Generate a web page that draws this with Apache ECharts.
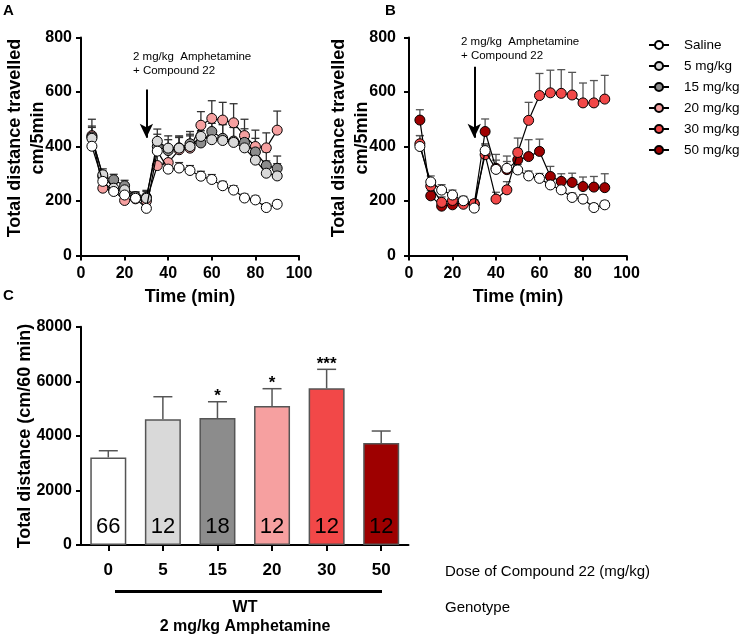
<!DOCTYPE html>
<html>
<head>
<meta charset="utf-8">
<script src="https://cdn.jsdelivr.net/npm/echarts@6/dist/echarts.min.js"></script>
<style>html,body{margin:0;padding:0;background:#fff;}#c{width:742px;height:638px;}</style>
</head>
<body>
<div id="c"></div>
<script>
// ---- Data ----
var timeMin = [5,10,15,20,25,30,35,40,45,50,55,60,65,70,75,80,85,90];

// Panel A
var salineA     = [401,272,235,222,210,173,383,317,321,312,291,279,256,240,211,204,176,188];
var salineA_err = [18,18,16,15,14,15,20,20,20,18,18,18,16,16,14,14,14,14];
var dose5A      = [430,296,247,241,215,210,419,394,394,400,437,425,422,415,395,350,302,292];
var dose5A_err  = [40,22,20,20,18,25,45,45,45,45,45,60,60,55,50,45,45,45];
var dose15A     = [435,290,278,256,215,214,400,385,395,410,413,455,430,420,415,380,330,320];
var dose15A_err = [40,20,20,20,18,25,45,40,40,45,45,50,50,50,50,50,50,45];
var dose20A     = [440,247,238,202,208,200,330,341,388,394,478,503,497,487,440,400,395,460];
var dose20A_err = [60,25,25,25,20,25,45,45,45,45,50,65,65,70,60,60,55,70];

// Panel B
var salineB     = [400,270,240,222,201,174,385,316,320,314,292,283,259,241,213,207,176,186];
var salineB_err = [40,22,20,18,16,15,20,55,45,20,18,18,18,18,16,16,14,14];
var dose30B     = [410,255,195,202,188,190,370,207,241,378,496,587,597,595,589,560,560,574];
var dose30B_err = [30,20,20,20,15,15,40,25,30,53,66,81,83,87,83,73,82,87];
var dose50B     = [497,219,181,186,195,189,455,320,315,351,363,382,290,272,268,253,251,249];
var dose50B_err = [38,20,20,20,18,15,46,30,30,40,62,45,37,28,34,35,39,51];

// Panel C
var doses  = ['0','5','15','20','30','50'];
var meanC  = [3210,4605,4654,5094,5742,3737];
var errC   = [245,829,596,634,696,440];
var nC     = [66,12,18,12,12,12];
var sigC   = ['','','*','*','***',''];

var seriesNames = ['Saline','5 mg/kg','15 mg/kg','20 mg/kg','30 mg/kg','50 mg/kg'];
var colors = {'Saline':'#ffffff','5 mg/kg':'#d9d9d9','15 mg/kg':'#8c8c8c','20 mg/kg':'#f6a0a0','30 mg/kg':'#f24848','50 mg/kg':'#9e0000'};

var FONT = "'Liberation Sans', Arial, sans-serif";

function pts(arr){ return timeMin.map(function(t,i){return [t, arr[i]];}); }
function errPts(arr, err){ return timeMin.map(function(t,i){return [t, arr[i], arr[i]+err[i]];}); }

function errSeries(arr, err, gi, color, z){
  return {
    type:'custom', xAxisIndex:gi, yAxisIndex:gi, z:z, silent:true,
    data: errPts(arr, err),
    encode:{x:0, y:[1,2]},
    renderItem:function(params, api){
      var p0 = api.coord([api.value(0), api.value(1)]);
      var p1 = api.coord([api.value(0), api.value(2)]);
      var hw = 4;
      return {type:'group', children:[
        {type:'line', shape:{x1:p0[0],y1:p0[1],x2:p1[0],y2:p1[1]}, style:{stroke:color, lineWidth:1.3}},
        {type:'line', shape:{x1:p1[0]-hw,y1:p1[1],x2:p1[0]+hw,y2:p1[1]}, style:{stroke:color, lineWidth:1.3}}
      ]};
    }
  };
}

function lineSeries(name, arr, gi, z, extra){
  var s = {
    name:name, type:'line', xAxisIndex:gi, yAxisIndex:gi, z:z,
    data: pts(arr), symbol:'circle', symbolSize:10, showSymbol:true,
    itemStyle:{color:colors[name], borderColor:'#000', borderWidth:1},
    lineStyle:{color:'#000', width:1.2},
    emphasis:{disabled:true}
  };
  if (extra) for (var k in extra) s[k] = extra[k];
  return s;
}

function arrowMark(yFrom, yTo){
  return {
    silent:true, symbol:['none','arrow'], symbolSize:[10,14],
    lineStyle:{color:'#000', width:2, type:'solid'},
    label:{show:false},
    data:[[{coord:[30, yFrom]},{coord:[30, yTo]}]]
  };
}

var axisLineStyle = {show:true, lineStyle:{color:'#000', width:2}};
var axisTickStyle = {show:true, length:5, lineStyle:{color:'#000', width:2}};
var labelStyle = {color:'#000', fontWeight:'bold', fontSize:16, fontFamily:FONT};

function timeX(gi){
  return {type:'value', gridIndex:gi, min:0, max:100, interval:20,
    axisLine:axisLineStyle, axisTick:axisTickStyle, splitLine:{show:false},
    axisLabel:Object.assign({margin:10}, labelStyle)};
}
function distY(gi, margin){
  return {type:'value', gridIndex:gi, min:0, max:800, interval:200,
    axisLine:axisLineStyle, axisTick:axisTickStyle, splitLine:{show:false},
    axisLabel:Object.assign({margin:margin}, labelStyle)};
}

var option = {
  animation:false,
  backgroundColor:'#fff',
  textStyle:{fontFamily:FONT},
  grid:[
    {left:81, top:37.5, width:218, height:218},
    {left:409, top:37.5, width:217.5, height:218},
    {left:81, top:326.7, width:327.5, height:218.3}
  ],
  xAxis:[
    timeX(0), timeX(1),
    {type:'category', gridIndex:2, data:doses,
     axisLine:axisLineStyle, axisTick:{show:true, alignWithLabel:true, length:6, lineStyle:{color:'#000', width:2}},
     axisLabel:Object.assign({margin:17}, labelStyle, {fontSize:17})}
  ],
  yAxis:[
    distY(0, 9), distY(1, 13),
    {type:'value', gridIndex:2, min:0, max:8000, interval:2000,
     axisLine:axisLineStyle, axisTick:axisTickStyle, splitLine:{show:false},
     axisLabel:Object.assign({margin:9, formatter:function(v){return String(v);}}, labelStyle)}
  ],
  legend:{
    orient:'vertical', left:643, top:33, itemWidth:20, itemHeight:10, itemGap:7,
    data:seriesNames,
    selectedMode:false,
    textStyle:{color:'#000', fontSize:13.5, fontFamily:FONT, lineHeight:14, padding:[0,0,0,10]}
  },
  series:[
    // Panel A error bars
    errSeries(dose20A, dose20A_err, 0, '#333', 1),
    errSeries(dose15A, dose15A_err, 0, '#333', 1),
    errSeries(dose5A, dose5A_err, 0, '#333', 1),
    errSeries(salineA, salineA_err, 0, '#333', 1),
    // Panel A lines
    lineSeries('20 mg/kg', dose20A, 0, 3),
    lineSeries('15 mg/kg', dose15A, 0, 4),
    lineSeries('5 mg/kg', dose5A, 0, 5),
    lineSeries('Saline', salineA, 0, 6, {markLine:arrowMark(609, 432)}),
    // Panel B error bars
    errSeries(dose50B, dose50B_err, 1, '#555', 1),
    errSeries(dose30B, dose30B_err, 1, '#555', 1),
    errSeries(salineB, salineB_err, 1, '#555', 1),
    // Panel B lines
    lineSeries('50 mg/kg', dose50B, 1, 3),
    lineSeries('30 mg/kg', dose30B, 1, 4),
    lineSeries('Saline', salineB, 1, 6, {markLine:arrowMark(693, 432)}),
    // Panel C bars
    {type:'bar', xAxisIndex:2, yAxisIndex:2, barWidth:36, z:2, silent:true,
     data: meanC.map(function(v,i){return {value:v, itemStyle:{color:colors[seriesNames[i]]}};}),
     itemStyle:{borderColor:'#555', borderWidth:1.5},
     label:{show:true, position:'insideBottom', distance:7, color:'#000', fontSize:22, fontFamily:FONT,
       formatter:function(p){return String(nC[p.dataIndex]);}}
    },
    // Panel C error bars and significance
    {type:'custom', xAxisIndex:2, yAxisIndex:2, z:1, silent:true,
     data: meanC.map(function(v,i){return [i, v, v+errC[i]];}),
     encode:{x:0, y:[1,2]},
     renderItem:function(params, api){
       var i = params.dataIndex;
       var p0 = api.coord([api.value(0), api.value(1)]);
       var p1 = api.coord([api.value(0), api.value(2)]);
       var hw = 9.5;
       var ch = [
         {type:'line', shape:{x1:p0[0],y1:p0[1],x2:p1[0],y2:p1[1]}, style:{stroke:'#555', lineWidth:1.5}},
         {type:'line', shape:{x1:p1[0]-hw,y1:p1[1],x2:p1[0]+hw,y2:p1[1]}, style:{stroke:'#555', lineWidth:1.5}}
       ];
       if (sigC[i]) ch.push({type:'text', x:p1[0], y:p1[1]-5, style:{text:sigC[i], align:'center', verticalAlign:'middle', font:'bold 17px ' + FONT, fill:'#000'}});
       return {type:'group', children:ch};
     }
    }
  ],
  graphic:[
    {type:'text', left:3, top:3, style:{text:'A', font:'bold 15px ' + FONT, fill:'#000'}},
    {type:'text', left:385, top:3, style:{text:'B', font:'bold 15px ' + FONT, fill:'#000'}},
    {type:'text', left:3, top:288, style:{text:'C', font:'bold 15px ' + FONT, fill:'#000'}},
    {type:'text', x:26.5, y:138, rotation:Math.PI/2, style:{text:'Total distance travelled\ncm/5min', align:'center', verticalAlign:'middle', lineHeight:23, font:'bold 18px ' + FONT, fill:'#000'}},
    {type:'text', x:351, y:138, rotation:Math.PI/2, style:{text:'Total distance travelled\ncm/5min', align:'center', verticalAlign:'middle', lineHeight:23, font:'bold 18px ' + FONT, fill:'#000'}},
    {type:'text', x:190, y:297, style:{text:'Time (min)', align:'center', verticalAlign:'middle', font:'bold 18px ' + FONT, fill:'#000'}},
    {type:'text', x:518, y:297, style:{text:'Time (min)', align:'center', verticalAlign:'middle', font:'bold 18px ' + FONT, fill:'#000'}},
    {type:'text', x:133, y:64, style:{text:'2 mg/kg  Amphetamine\n+ Compound 22', align:'left', verticalAlign:'middle', lineHeight:14, font:'11.5px ' + FONT, fill:'#000'}},
    {type:'text', x:461, y:49, style:{text:'2 mg/kg  Amphetamine\n+ Compound 22', align:'left', verticalAlign:'middle', lineHeight:14, font:'11.5px ' + FONT, fill:'#000'}},
    {type:'text', x:25, y:436, rotation:Math.PI/2, style:{text:'Total distance (cm/60 min)', align:'center', verticalAlign:'middle', font:'bold 18px ' + FONT, fill:'#000'}},
    {type:'rect', shape:{x:115, y:590, width:267, height:3}, style:{fill:'#000'}},
    {type:'text', x:245, y:608, style:{text:'WT', align:'center', verticalAlign:'middle', font:'bold 16px ' + FONT, fill:'#000'}},
    {type:'text', x:245, y:627, style:{text:'2 mg/kg Amphetamine', align:'center', verticalAlign:'middle', font:'bold 16px ' + FONT, fill:'#000'}},
    {type:'text', x:445, y:572, style:{text:'Dose of Compound 22 (mg/kg)', align:'left', verticalAlign:'middle', font:'15px ' + FONT, fill:'#000'}},
    {type:'text', x:445, y:608, style:{text:'Genotype', align:'left', verticalAlign:'middle', font:'15px ' + FONT, fill:'#000'}}
  ]
};

var chart = echarts.init(document.getElementById('c'), null, {renderer:'canvas'});
chart.setOption(option);
</script>
</body>
</html>
